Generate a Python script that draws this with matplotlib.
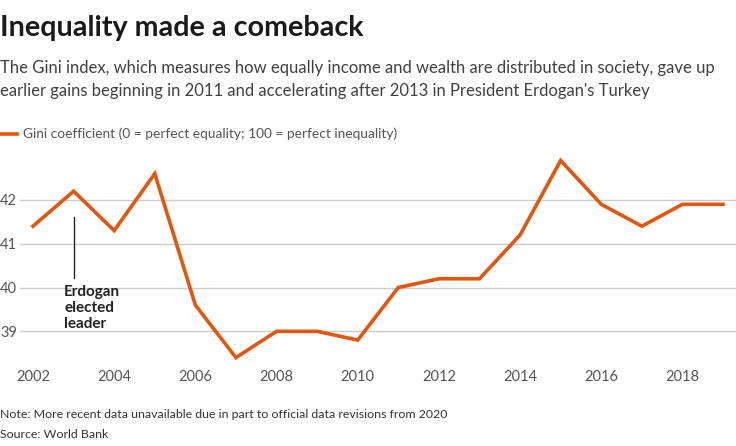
import matplotlib
matplotlib.use("Agg")
import matplotlib.pyplot as plt

years = [2002, 2003, 2004, 2005, 2006, 2007, 2008, 2009, 2010, 2011,
         2012, 2013, 2014, 2015, 2016, 2017, 2018, 2019]
gini = [41.4, 42.2, 41.3, 42.6, 39.6, 38.4, 39.0, 39.0, 38.8, 40.0,
        40.2, 40.2, 41.2, 42.9, 41.9, 41.4, 41.9, 41.9]
yticks = [39, 40, 41, 42]
xticks = [2002, 2004, 2006, 2008, 2010, 2012, 2014, 2016, 2018]

W, H = 736, 446
fig = plt.figure(figsize=(W / 100, H / 100), dpi=100)
plt.rcParams['font.family'] = ['Lato', 'DejaVu Sans']

LINE = '#E3560F'
GRAY = '#555555'
DARK = '#222222'

def fx(px):
    return px / W

def fy(py):
    return 1 - py / H

ax_left, ax_right, ax_top, ax_bot = 20, 736, 150, 362
ax = fig.add_axes([fx(ax_left), fy(ax_bot), fx(ax_right - ax_left), (ax_bot - ax_top) / H])
ax.plot(years, gini, color=LINE, lw=2.6, solid_joinstyle='miter', zorder=3)
ax.set_xlim(2001.68, 2019.32)
ax.set_ylim(38.3, 43.14)
ax.set_yticks(yticks)
ax.set_xticks(xticks)
ax.set_yticklabels([str(v) for v in yticks], ha='left')
ax.set_xticklabels([str(v) for v in xticks])
ax.grid(axis='y', color='#cccccc', lw=1)
ax.set_axisbelow(True)
for s in ax.spines.values():
    s.set_visible(False)
ax.tick_params(axis='both', length=0, labelsize=10.5, labelcolor=GRAY)
ax.tick_params(axis='y', pad=ax_left * 0.72)
ax.tick_params(axis='x', pad=6)

# annotation
ax.plot([2003, 2003], [41.62, 40.22], color=DARK, lw=1)
ax.text(2002.77, 40.05, "Erdogan\nelected\nleader", fontsize=11, fontweight='bold',
        color=DARK, va='top', ha='left', linespacing=1.15)

# title & subtitle
fig.text(0, fy(28), "Inequality made a comeback", fontsize=20.7, fontweight='bold',
         color='#1a1a1a', va='center', ha='left')
fig.text(0, fy(68), "The Gini index, which measures how equally income and wealth are distributed in society, gave up",
         fontsize=12.0, color='#404040', va='center', ha='left')
fig.text(0, fy(91), "earlier gains beginning in 2011 and accelerating after 2013 in President Erdogan's Turkey",
         fontsize=12.0, color='#404040', va='center', ha='left')

# legend
fig.add_artist(plt.Line2D([fx(0), fx(17)], [fy(134), fy(134)], color=LINE, lw=2.6))
fig.text(fx(23), fy(134), "Gini coefficient (0 = perfect equality; 100 = perfect inequality)",
         fontsize=9.9, color=GRAY, va='center', ha='left')

# footer
fig.text(0, fy(414), "Note: More recent data unavailable due in part to official data revisions from 2020",
         fontsize=8.9, color='#333333', va='center', ha='left')
fig.text(0, fy(434), "Source: World Bank", fontsize=8.9, color='#333333', va='center', ha='left')

fig.savefig("out.png", dpi=100, facecolor='white')
